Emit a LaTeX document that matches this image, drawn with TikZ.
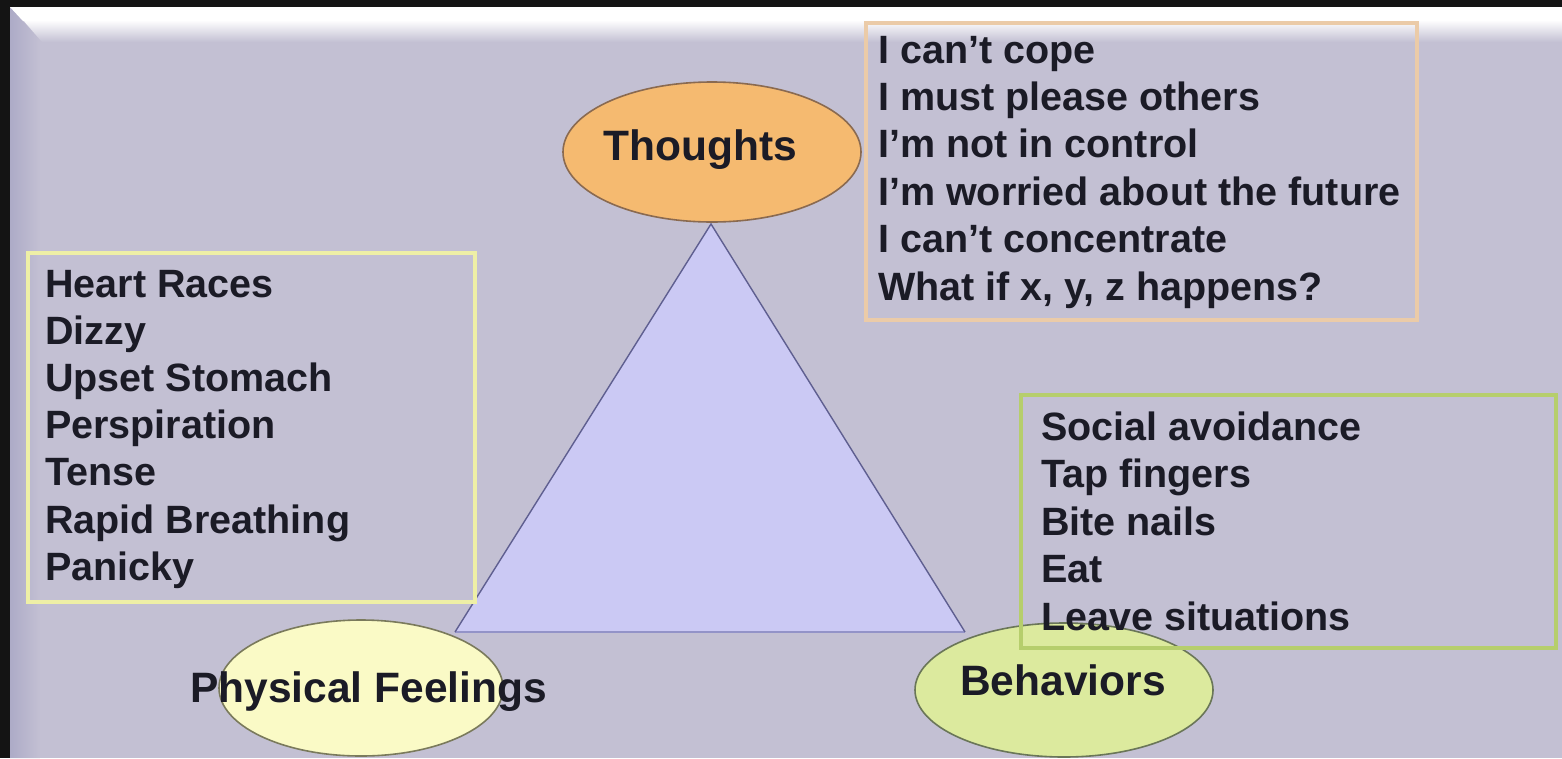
\documentclass[tikz,border=0pt]{standalone}
\usepackage{fontspec}
\setmainfont{Liberation Sans}
\usetikzlibrary{shapes.geometric}

\definecolor{frameDark}{HTML}{141414}
\definecolor{panelBg}{HTML}{C3C0D3}
\definecolor{bevelSide}{HTML}{ADABC7}
\definecolor{triFill}{HTML}{CBC9F4}
\definecolor{triEdge}{HTML}{5F5F90}
\definecolor{triBase}{HTML}{9393C8}
\definecolor{thoughtFill}{HTML}{F5BA70}
\definecolor{thoughtEdge}{HTML}{8A6A50}
\definecolor{physFill}{HTML}{FAFAC6}
\definecolor{physEdge}{HTML}{7A7A5C}
\definecolor{behavFill}{HTML}{DCEA9E}
\definecolor{behavEdge}{HTML}{6A7658}
\definecolor{thoughtBox}{HTML}{EBCBA8}
\definecolor{physBox}{HTML}{EEEFA6}
\definecolor{behavBox}{HTML}{B6CE6C}
\definecolor{ink}{HTML}{1B1B26}

\begin{document}
\begin{tikzpicture}[x=1pt,y=-1pt,
  oval/.style={ellipse, inner sep=0pt, line width=1.6pt},
  headtext/.style={anchor=base west, inner sep=0pt, text=ink,
    font=\fontsize{42.5}{50}\selectfont\bfseries},
  listtext/.style={anchor=base west, inner sep=0pt, text=ink,
    font=\fontsize{39.5}{47}\selectfont\bfseries},
  listbox/.style={line width=4pt}]
\useasboundingbox (0,0) rectangle (1562,758);

% dark surround and the slide panel
\fill[frameDark] (0,0) rectangle (1562,758);
\fill[panelBg] (10,7) rectangle (1562,758);
% bevelled left edge
\shade[left color=bevelSide, right color=panelBg]
  (10,7) -- (40,40) -- (40,758) -- (10,758) -- cycle;
% bevelled top edge, mitred into the left one
\fill[white] (10,7) -- (1562,7) -- (1562,21) -- (23,21) -- cycle;
\shade[top color=white, bottom color=panelBg]
  (23,20) -- (1562,20) -- (1562,42) -- (42,42) -- cycle;

% triangle corners
\coordinate (apex) at (711,224);
\coordinate (baseL) at (455,632);
\coordinate (baseR) at (965,632);
\fill[triFill] (apex) -- (baseR) -- (baseL) -- cycle;
\draw[triBase, line width=2.2pt] (baseL) -- (baseR);
\draw[triEdge, line width=1.4pt] (baseL) -- (apex) -- (baseR);

% the three ovals
\node[oval, fill=thoughtFill, draw=thoughtEdge,
  minimum width=298pt, minimum height=140pt] (thoughts) at (712,152) {};
\node[oval, fill=physFill, draw=physEdge,
  minimum width=284pt, minimum height=136pt] (phys) at (361,688) {};
\node[oval, fill=behavFill, draw=behavEdge,
  minimum width=298pt, minimum height=134pt] (behav) at (1064,690) {};

% list frames
\draw[thoughtBox, listbox] (866,23) rectangle (1417,320);
\draw[physBox, listbox] (28,253) rectangle (475,602);
\draw[behavBox, listbox] (1021,395) rectangle (1556,648);

% oval captions
\node[headtext] (thoughtsLabel) at (603,160) {Thoughts};
\node[headtext] (physLabel) at (190,702) {Physical Feelings};
\node[headtext] (behavLabel) at (960,695) {Behaviors};

% thoughts list
\foreach \t [count=\i] in {I can’t cope, I must please others,
    I’m not in control, I’m worried about the future,
    I can’t concentrate, {What if x, y, z happens?}}
  \node[listtext] (thought\i) at (878,{63+47.4*(\i-1)}) {\t};

% physical feelings list
\foreach \t [count=\i] in {Heart Races, Dizzy, Upset Stomach, Perspiration,
    Tense, Rapid Breathing, Panicky}
  \node[listtext] (feel\i) at (45,{297+47.2*(\i-1)}) {\t};

% behaviours list
\foreach \t [count=\i] in {Social avoidance, Tap fingers, Bite nails, Eat,
    Leave situations}
  \node[listtext] (act\i) at (1041,{440+47.5*(\i-1)}) {\t};
\end{tikzpicture}
\end{document}
